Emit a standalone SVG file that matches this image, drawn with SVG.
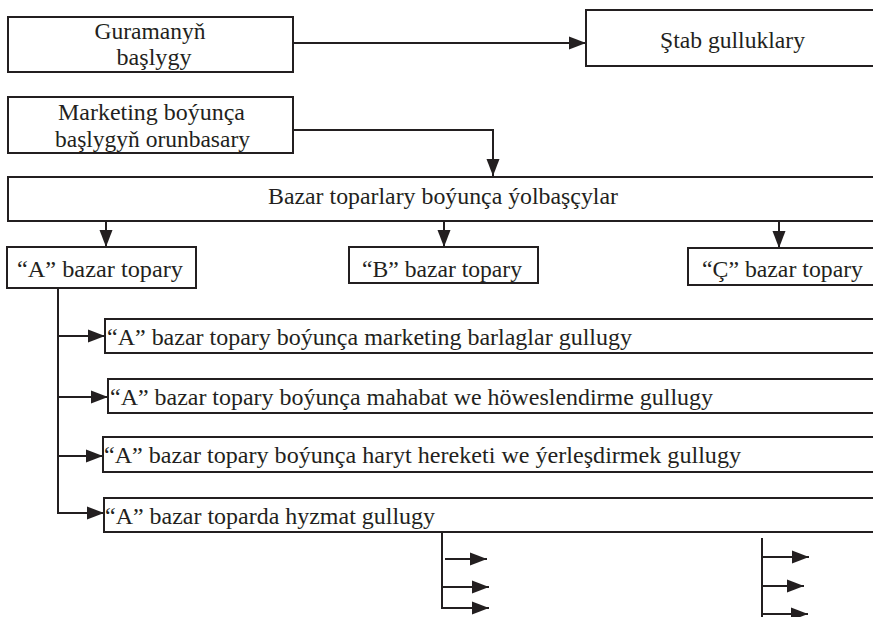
<svg xmlns="http://www.w3.org/2000/svg" width="873" height="617" viewBox="0 0 873 617">
<style>
.box{fill:#fff;stroke:#231f20;stroke-width:2}
.ln{fill:none;stroke:#231f20;stroke-width:2}
.t{font-size:24px;fill:#231f20}
.c{text-anchor:middle}
</style>
<defs>
<marker id="ah" markerUnits="userSpaceOnUse" markerWidth="18" markerHeight="14" refX="17" refY="7" orient="auto">
<path d="M0,0.5 L17,7 L0,13.5 Z" fill="#231f20"/>
</marker>
</defs>
<rect width="873" height="617" fill="#fff"/>

<g id="connectors">
<line class="ln" x1="294" y1="43" x2="586" y2="43" marker-end="url(#ah)"/>
<polyline class="ln" points="294,130 493,130 493,176" marker-end="url(#ah)"/>
<line class="ln" x1="106" y1="222" x2="106" y2="247" marker-end="url(#ah)"/>
<line class="ln" x1="444" y1="222" x2="444" y2="247" marker-end="url(#ah)"/>
<line class="ln" x1="779" y1="222" x2="779" y2="248" marker-end="url(#ah)"/>
<line class="ln" x1="58" y1="289" x2="58" y2="514"/>
<line class="ln" x1="57" y1="336" x2="105" y2="336" marker-end="url(#ah)"/>
<line class="ln" x1="57" y1="397" x2="108" y2="397" marker-end="url(#ah)"/>
<line class="ln" x1="57" y1="456" x2="103" y2="456" marker-end="url(#ah)"/>
<line class="ln" x1="57" y1="513" x2="104" y2="513" marker-end="url(#ah)"/>
<line class="ln" x1="442" y1="533" x2="442" y2="609"/>
<line class="ln" x1="445" y1="559" x2="487" y2="559" marker-end="url(#ah)"/>
<line class="ln" x1="441" y1="587" x2="489" y2="587" marker-end="url(#ah)"/>
<line class="ln" x1="441" y1="608" x2="489" y2="608" marker-end="url(#ah)"/>
<line class="ln" x1="762" y1="538" x2="762" y2="618"/>
<line class="ln" x1="761" y1="557" x2="809" y2="557" marker-end="url(#ah)"/>
<line class="ln" x1="761" y1="586" x2="804" y2="586" marker-end="url(#ah)"/>
<line class="ln" x1="761" y1="614" x2="808" y2="614" marker-end="url(#ah)"/>
</g>

<g font-family="Liberation Serif, Tinos, Times New Roman, Times, Noto Serif, DejaVu Serif, FreeSerif, serif">
<g id="n-gurama">
<rect class="box" x="8" y="17" width="285" height="55"/>
<text class="t c" x="150" y="39" textLength="111" lengthAdjust="spacingAndGlyphs">Guramanyň</text>
<text class="t c" x="154" y="65" textLength="75" lengthAdjust="spacingAndGlyphs">başlygy</text>
</g>

<g id="n-stab">
<rect class="box" x="586" y="10" width="290" height="56"/>
<text class="t" x="660" y="48" textLength="145" lengthAdjust="spacingAndGlyphs">Ştab gulluklary</text>
</g>

<g id="n-marketing">
<rect class="box" x="8" y="97" width="285" height="56"/>
<text class="t" x="58" y="120" textLength="187" lengthAdjust="spacingAndGlyphs">Marketing boýunça</text>
<text class="t" x="55" y="147" textLength="195" lengthAdjust="spacingAndGlyphs">başlygyň orunbasary</text>
</g>

<g id="n-bazar">
<rect class="box" x="8" y="177" width="868" height="44"/>
<text class="t" x="268" y="204" textLength="350" lengthAdjust="spacingAndGlyphs">Bazar toparlary boýunça ýolbaşçylar</text>
</g>

<g id="n-a">
<rect class="box" x="7" y="247" width="189" height="41"/>
<text class="t" x="17" y="277" textLength="166" lengthAdjust="spacingAndGlyphs">“A” bazar topary</text>
</g>

<g id="n-b">
<rect class="box" x="349" y="247" width="189" height="36"/>
<text class="t" x="362" y="277" textLength="160" lengthAdjust="spacingAndGlyphs">“B” bazar topary</text>
</g>

<g id="n-c">
<rect class="box" x="688" y="248" width="188" height="37"/>
<text class="t" x="702" y="277" textLength="161" lengthAdjust="spacingAndGlyphs">“Ç” bazar topary</text>
</g>

<g id="n-s1">
<rect class="box" x="105" y="319" width="771" height="34"/>
<text class="t" x="107" y="345" textLength="525" lengthAdjust="spacingAndGlyphs">“A” bazar topary boýunça marketing barlaglar gullugy</text>
</g>

<g id="n-s2">
<rect class="box" x="108" y="379" width="768" height="34"/>
<text class="t" x="110" y="405" textLength="603" lengthAdjust="spacingAndGlyphs">“A” bazar topary boýunça mahabat we höweslendirme gullugy</text>
</g>

<g id="n-s3">
<rect class="box" x="103" y="437" width="773" height="35"/>
<text class="t" x="104" y="463" textLength="637" lengthAdjust="spacingAndGlyphs">“A” bazar topary boýunça haryt hereketi we ýerleşdirmek gullugy</text>
</g>

<g id="n-s4">
<rect class="box" x="104" y="498" width="772" height="34"/>
<text class="t" x="105" y="524" textLength="330" lengthAdjust="spacingAndGlyphs">“A” bazar toparda hyzmat gullugy</text>
</g>
</g>
</svg>
